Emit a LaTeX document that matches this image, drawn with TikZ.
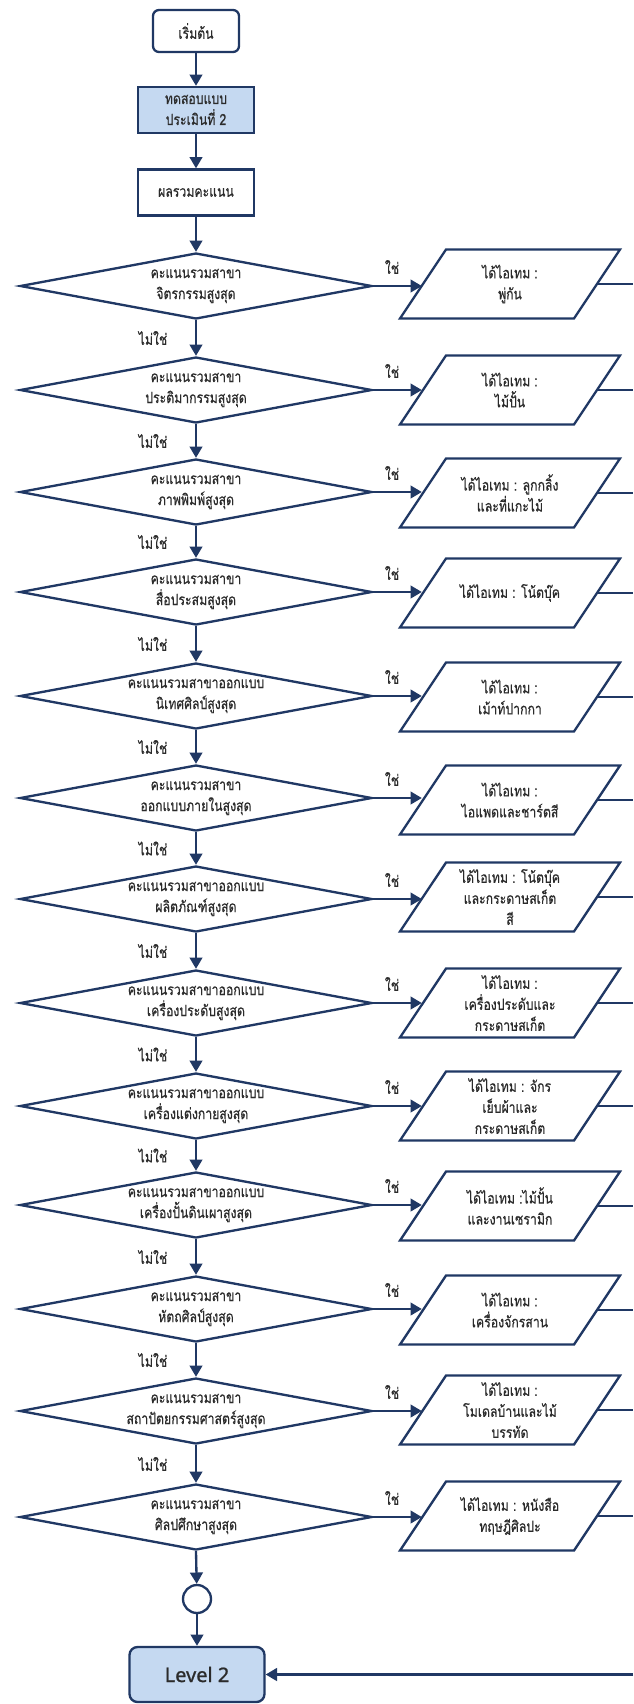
\documentclass[tikz,border=0pt]{standalone}
\usepackage{fontspec}
\newfontfamily\thaifont[Script=Thai,FakeStretch=0.8,FakeBold=0.5]{Loma}
\newfontfamily\levelfont[FakeBold=1]{Noto Sans}
\usetikzlibrary{arrows.meta,shapes.geometric}
\definecolor{navy}{HTML}{203864}
\definecolor{paleblue}{HTML}{C5D9F1}
\definecolor{inkgray}{HTML}{2B2B2B}

\tikzset{
  flow/.style={draw=navy, line width=1.75pt},
  txt/.style={font=\thaifont\fontsize{11.5}{15.75}\selectfont, align=center, inner sep=0pt, text=inkgray},
  arr/.style={navy, line width=1.75pt, -{Triangle[length=8.5pt,width=9.5pt]}},
  link/.style={navy, line width=1.75pt},
  terminal/.style={flow, rectangle, rounded corners=4.5pt, minimum width=64.5pt, minimum height=31.5pt, inner sep=0pt, fill=white, txt},
  procbox/.style={flow, rectangle, minimum width=87pt, minimum height=34.5pt, inner sep=0pt, fill=white, txt},
  dia/.style={flow, diamond, minimum width=264pt, minimum height=49.5pt, inner sep=0pt, fill=white},
  para/.style={flow, rectangle, xslant=0.6667, transform shape, minimum width=130.5pt, minimum height=51.75pt,
    inner sep=0pt, fill=white},
  joint/.style={flow, circle, minimum size=21pt, inner sep=0pt, fill=white},
  levelbox/.style={flow, rectangle, rounded corners=6pt, minimum width=101.25pt, minimum height=41.25pt,
    inner sep=0pt, fill=paleblue, font=\levelfont\fontsize{15}{18}\selectfont, text=inkgray}
}

\begin{document}
\begin{tikzpicture}[x=0.75pt,y=-0.75pt]
\fill[white] (0,0) rectangle (633,1704);
\useasboundingbox (0,0) rectangle (633,1704);

% main column
\node[terminal] (start) at (196,31) {เริ่มต้น};
\node[procbox, fill=paleblue] (test) at (196,110) {ทดสอบแบบ\\ประเมินที่ 2};
\node[procbox] (sum) at (196,192.5) {ผลรวมคะแนน};

% decision diamonds (shape) and their questions (text)
\foreach \k/\yy in {1/286,2/390,3/492,4/592,5/696,6/798,7/899,8/1003,9/1106,10/1205,11/1309,12/1411,13/1517}
  \node[dia] (d\k) at (196,\yy) {};

\node[txt] (q1) at (d1) {คะแนนรวมสาขา\\จิตรกรรมสูงสุด};
\node[txt] (q2) at (d2) {คะแนนรวมสาขา\\ประติมากรรมสูงสุด};
\node[txt] (q3) at (d3) {คะแนนรวมสาขา\\ภาพพิมพ์สูงสุด};
\node[txt] (q4) at (d4) {คะแนนรวมสาขา\\สื่อประสมสูงสุด};
\node[txt] (q5) at (d5) {คะแนนรวมสาขาออกแบบ\\นิเทศศิลป์สูงสุด};
\node[txt] (q6) at (d6) {คะแนนรวมสาขา\\ออกแบบภายในสูงสุด};
\node[txt] (q7) at (d7) {คะแนนรวมสาขาออกแบบ\\ผลิตภัณฑ์สูงสุด};
\node[txt] (q8) at (d8) {คะแนนรวมสาขาออกแบบ\\เครื่องประดับสูงสุด};
\node[txt] (q9) at (d9) {คะแนนรวมสาขาออกแบบ\\เครื่องแต่งกายสูงสุด};
\node[txt] (q10) at (d10) {คะแนนรวมสาขาออกแบบ\\เครื่องปั้นดินเผาสูงสุด};
\node[txt] (q11) at (d11) {คะแนนรวมสาขา\\หัตถศิลป์สูงสุด};
\node[txt] (q12) at (d12) {คะแนนรวมสาขา\\สถาปัตยกรรมศาสตร์สูงสุด};
\node[txt] (q13) at (d13) {คะแนนรวมสาขา\\ศิลปศึกษาสูงสุด};

% reward parallelograms (slanted boxes) and their texts
\foreach \k/\yy in {1/284,2/390,3/493,4/593,5/697,6/800,7/897,8/1003,9/1106,10/1206,11/1310,12/1410,13/1516}{
  \begin{scope}[shift={(510,\yy)}]
    \node[para] (p\k) at (0,0) {};
  \end{scope}
}

\node[txt] (r1) at (p1) {ได้ไอเทม :\\พู่กัน};
\node[txt] (r2) at (p2) {ได้ไอเทม :\\ไม้ปั้น};
\node[txt] (r3) at (p3) {ได้ไอเทม : ลูกกลิ้ง\\และที่แกะไม้};
\node[txt] (r4) at (p4) {ได้ไอเทม : โน้ตบุ๊ค};
\node[txt] (r5) at (p5) {ได้ไอเทม :\\เม้าท์ปากกา};
\node[txt] (r6) at (p6) {ได้ไอเทม :\\ไอแพดและชาร์ตสี};
\node[txt] (r7) at (p7) {ได้ไอเทม : โน้ตบุ๊ค\\และกระดาษสเก็ต\\สี};
\node[txt] (r8) at (p8) {ได้ไอเทม :\\เครื่องประดับและ\\กระดาษสเก็ต};
\node[txt] (r9) at (p9) {ได้ไอเทม : จักร\\เย็บผ้าและ\\กระดาษสเก็ต};
\node[txt] (r10) at (p10) {ได้ไอเทม :ไม้ปั้น\\และงานเซรามิก};
\node[txt] (r11) at (p11) {ได้ไอเทม :\\เครื่องจักรสาน};
\node[txt] (r12) at (p12) {ได้ไอเทม :\\โมเดลบ้านและไม้\\บรรทัด};
\node[txt] (r13) at (p13) {ได้ไอเทม : หนังสือ\\ทฤษฎีศิลปะ};

% end of the chain
\node[joint] (join) at (197,1599) {};
\node[levelbox] (level) at (197,1674.5) {Level 2};

% free ends at the right margin
\foreach \k/\yy in {1/284,2/390,3/493,4/593,5/697,6/800,7/897,8/1003,9/1106,10/1206,11/1310,12/1410,13/1516}
  \coordinate (e\k) at (633,\yy);
\coordinate (back) at (633,1674.5);

% vertical flow
\draw[arr] (start) -- (test);
\draw[arr] (test) -- (sum);
\draw[arr] (sum) -- (d1);
\foreach \a/\b in {1/2,2/3,3/4,4/5,5/6,6/7,7/8,8/9,9/10,10/11,11/12,12/13}
  \draw[arr] (d\a) -- (d\b);
\draw[arr] (d13.south) -- (join);
\draw[arr] (join) -- (level);

% yes branches
\foreach \k in {1,...,13}{
  \draw[arr] (d\k.east) -- (d\k.east -| p\k.west);
  \draw[link] (p\k.east) -- (e\k);
}
\draw[arr] (back) -- (level.east);

% branch labels
\foreach \k/\yy in {1/286,2/390,3/492,4/592,5/696,6/798,7/899,8/1003,9/1106,10/1205,11/1309,12/1411,13/1517}
  \node[txt] (yes\k) at (392,\yy-19) {ใช่};
\foreach \k/\yy in {1/338,2/441,3/542,4/644,5/747,6/848.5,7/951,8/1054.5,9/1155.5,10/1257,11/1360,12/1464}
  \node[txt] (no\k) at (153,\yy) {ไม่ใช่};
\end{tikzpicture}
\end{document}
